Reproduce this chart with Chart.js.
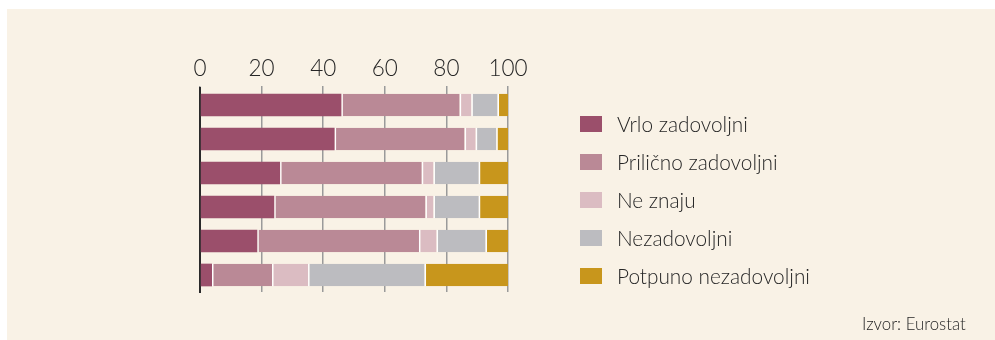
<!DOCTYPE html>
<html>
<head>
<meta charset="utf-8">
<script src="https://cdn.jsdelivr.net/npm/chart.js@4"></script>
<style>
html, body { margin: 0; padding: 0; background: #fff; }
body { width: 995px; height: 340px; position: relative; overflow: hidden; font-family: Lato, "DejaVu Sans", sans-serif; font-weight: 300; color: #262626; }
#panel { position: absolute; left: 7px; top: 9px; right: 0; bottom: 0; background: #f9f2e6; }
#wrap { position: absolute; left: 0; top: 0; width: 995px; height: 340px; }
#legend { position: absolute; left: 580px; top: 116px; margin: 0; padding: 0; list-style: none; }
#legend li { height: 38px; position: relative; font-size: 20.8px; line-height: 16px; }
#legend span.box { position: absolute; left: 0; top: 0; width: 22px; height: 16px; }
#legend span.txt { position: absolute; left: 37px; top: 0; white-space: nowrap; }
#source { position: absolute; left: 862px; top: 313px; font-size: 16.8px; white-space: nowrap; }
</style>
</head>
<body>
<div id="panel"></div>
<div id="wrap"><canvas id="chart" width="995" height="340"></canvas></div>
<ul id="legend"></ul>
<div id="source">Izvor: Eurostat</div>
<script>
// rows (top to bottom), shares in %
const rows = ["1", "2", "3", "4", "5", "6"];
const vrloZadovoljni     = [45.9, 43.7, 26.0, 24.1, 18.6, 3.9];
const prilicnoZadovoljni = [38.4, 42.2, 46.0, 49.1, 52.5, 19.5];
const neZnaju            = [3.8, 3.6, 3.8, 2.6, 5.7, 11.7];
const nezadovoljni       = [8.5, 6.7, 14.7, 14.7, 15.9, 37.8];
const potpunoNezad       = [3.4, 3.8, 9.5, 9.5, 7.3, 27.1];
const xTicks = [0, 20, 40, 60, 80, 100];

const seriesNames = ["Vrlo zadovoljni", "Prilično zadovoljni", "Ne znaju", "Nezadovoljni", "Potpuno nezadovoljni"];
const seriesData = [vrloZadovoljni, prilicnoZadovoljni, neZnaju, nezadovoljni, potpunoNezad];
const colors = ["#9b4f6b", "#ba8996", "#dbbcc2", "#bcbcc0", "#c8961c"];

const datasets = seriesData.map((d, i) => ({
  label: seriesNames[i],
  data: d,
  backgroundColor: colors[i],
  borderColor: "#ffffff",
  borderWidth: i === 0 ? 0 : { left: 1.5, right: 0, top: 0, bottom: 0 },
  borderSkipped: false,
  barPercentage: 0.667,
  categoryPercentage: 1
}));

new Chart(document.getElementById("chart"), {
  type: "bar",
  data: { labels: rows, datasets: datasets },
  options: {
    indexAxis: "y",
    responsive: false,
    animation: false,
    layout: { padding: { left: 200, right: 487, top: 0, bottom: 48 } },
    plugins: { legend: { display: false }, tooltip: { enabled: false } },
    scales: {
      x: {
        position: "top",
        stacked: true,
        min: 0,
        max: 100,
        afterBuildTicks: s => { s.ticks = xTicks.map(v => ({ value: v })); },
        afterFit: s => { s.height = 88; },
        grid: { color: "#9a9a9a", lineWidth: 1.5, tickLength: 2, drawOnChartArea: true },
        border: { display: false },
        ticks: { color: "#262626", padding: 4, font: { family: "Lato", size: 22.5, weight: 300 } }
      },
      y: {
        stacked: true,
        grid: { display: false, drawTicks: false },
        border: { display: true, color: "#2a2a2a", width: 2 },
        ticks: { display: false }
      }
    }
  }
});

// legend on the right
const legend = document.getElementById("legend");
seriesNames.forEach((n, i) => {
  const li = document.createElement("li");
  li.innerHTML = `<span class="box" style="background:${colors[i]}"></span><span class="txt">${n}</span>`;
  legend.appendChild(li);
});
</script>
</body>
</html>
